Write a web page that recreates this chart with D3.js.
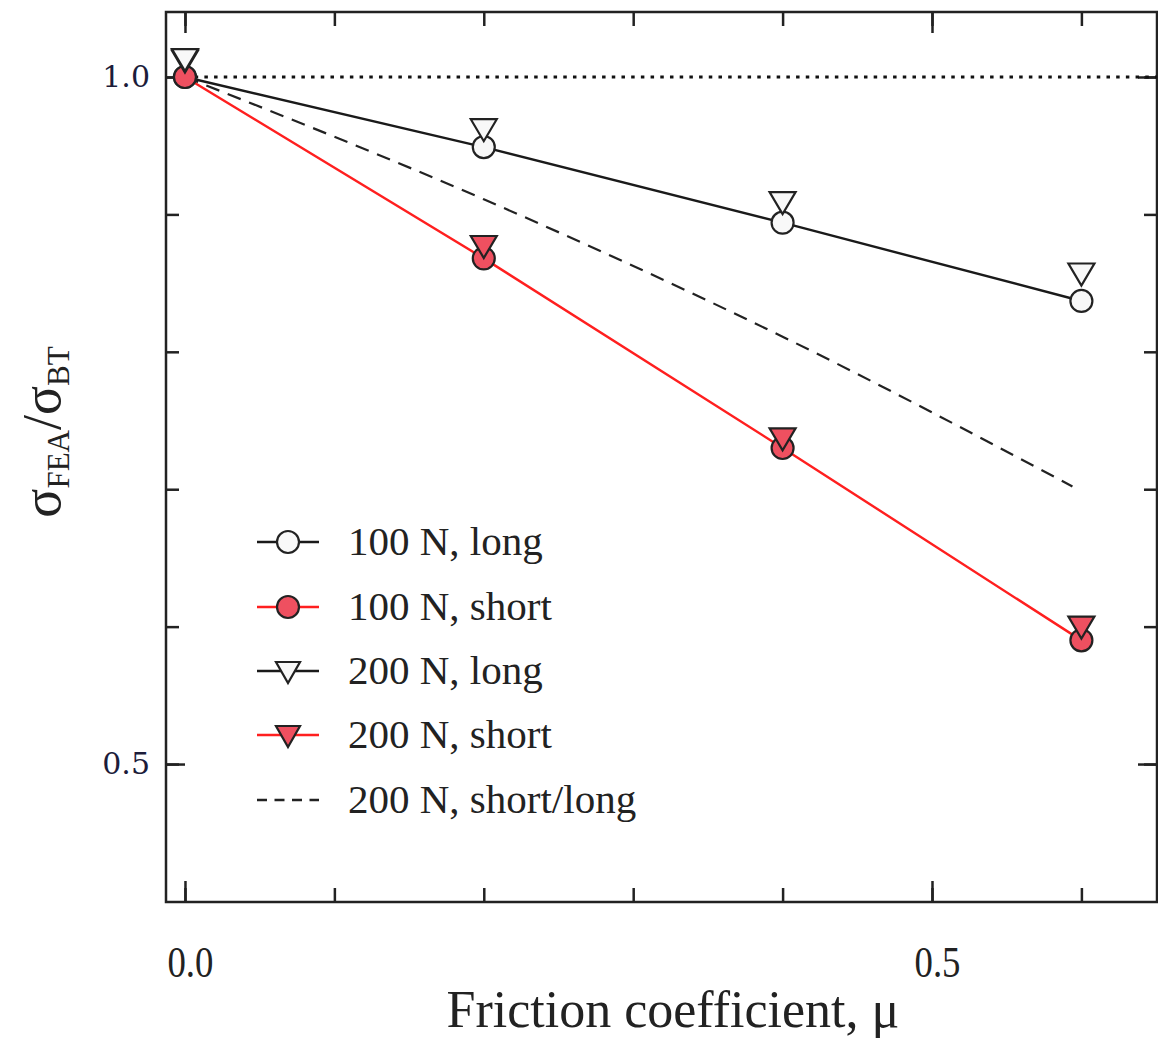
<!DOCTYPE html>
<html lang="en">
<head>
<meta charset="UTF-8">
<title>Stress ratio vs friction coefficient</title>
<script src="https://d3js.org/d3.v7.min.js"></script>
<style>
  html, body { margin:0; padding:0; background:#fff; }
</style>
</head>
<body>
<div id="chart"></div>
<script>
// data
const mu = [0.0, 0.2, 0.4, 0.6];
const long100 = [1.0, 0.949, 0.894, 0.837];
const short100 = [1.0, 0.868, 0.730, 0.590];
const long200 = [1.013, 0.962, 0.909, 0.857];
const short200 = [1.012, 0.877, 0.737, 0.600];
const ratioMu = [0.0, 0.2, 0.4, 0.594];
const ratio200 = [1.0, 0.911, 0.811, 0.702];
const xMinor = [0.0, 0.1, 0.2, 0.3, 0.4, 0.5, 0.6];
const xMajor = [0.0, 0.5];
const yMinor = [0.5, 0.6, 0.7, 0.8, 0.9, 1.0];
const yMajor = [0.5, 1.0];
const legendLabels = ["100 N, long", "100 N, short", "200 N, long", "200 N, short", "200 N, short/long"];

const W = 1158, H = 1040;
const L = 166, R = 1157, T = 12, B = 902;
const red = "#ff1f1f", redFill = "#ee5060", openFill = "#f8f8f8", ink = "#222";
const serif = "'Liberation Serif', 'Times New Roman', serif";

const svg = d3.select("#chart").append("svg")
    .attr("width", W).attr("height", H)
    .style("font-family", serif);

const x = d3.scaleLinear().domain([-0.0127, 0.6506]).range([L, R]);
const y = d3.scaleLinear().domain([0.3996, 1.0473]).range([B, T]);

// axes, ticks pointing inward on all four sides
function axisGroup(axis, tr) {
    const g = svg.append("g").attr("transform", tr).call(axis);
    g.select(".domain").remove();
    g.selectAll(".tick line").attr("stroke", ink).attr("stroke-width", 2.5);
    return g;
}
axisGroup(d3.axisBottom(x).tickValues(xMinor).tickSize(-14).tickFormat(""), `translate(0,${B})`);
axisGroup(d3.axisTop(x).tickValues(xMinor).tickSize(-14).tickFormat(""), `translate(0,${T})`);
axisGroup(d3.axisTop(x).tickValues(xMajor).tickSize(-21).tickFormat(""), `translate(0,${T})`);
const xb = axisGroup(d3.axisBottom(x).tickValues(xMajor).tickSize(-21).tickPadding(40)
    .tickFormat(d3.format(".1f")), `translate(0,${B})`);
xb.selectAll("text")
    .style("font-family", serif).style("font-size", "40px").attr("fill", "#222")
    .attr("transform", "translate(5,0) scale(0.92,1.1)").attr("dy", "0.7em");

axisGroup(d3.axisLeft(y).tickValues(yMinor).tickSize(-13).tickFormat(""), `translate(${L},0)`);
axisGroup(d3.axisRight(y).tickValues(yMinor).tickSize(-13).tickFormat(""), `translate(${R},0)`);
axisGroup(d3.axisRight(y).tickValues(yMajor).tickSize(-19).tickFormat(""), `translate(${R},0)`);
const yl = axisGroup(d3.axisLeft(y).tickValues(yMajor).tickSize(-19).tickPadding(16)
    .tickFormat(d3.format(".1f")), `translate(${L},0)`);
yl.selectAll("text")
    .style("font-family", "'DejaVu Serif', serif").style("font-size", "30px").attr("fill", "#1c1c3a");

// frame
svg.append("rect").attr("x", L).attr("y", T).attr("width", R - L).attr("height", B - T)
    .attr("fill", "none").attr("stroke", ink).attr("stroke-width", 2.5);

// reference line at 1.0
svg.append("line").attr("x1", x(0)).attr("x2", R).attr("y1", y(1)).attr("y2", y(1))
    .attr("stroke", "#111").attr("stroke-width", 3).attr("stroke-dasharray", "3.5 6.2");

const line = d3.line().x(d => x(d[0])).y(d => y(d[1]));
const zip = (a, b) => a.map((v, i) => [v, b[i]]);

svg.append("path").datum(zip(ratioMu, ratio200))
    .attr("d", line.curve(d3.curveMonotoneX)).attr("fill", "none")
    .attr("stroke", "#222").attr("stroke-width", 2.2).attr("stroke-dasharray", "14 9");
line.curve(d3.curveLinear);
svg.append("path").datum(zip(mu, long100)).attr("d", line)
    .attr("fill", "none").attr("stroke", "#1a1a1a").attr("stroke-width", 2.4);
svg.append("path").datum(zip(mu, short100)).attr("d", line)
    .attr("fill", "none").attr("stroke", red).attr("stroke-width", 2.4);

const tri = "M-13,-10L13,-10L0,12Z";
function circles(vals, fill) {
    svg.append("g").selectAll("circle").data(zip(mu, vals)).join("circle")
        .attr("cx", d => x(d[0])).attr("cy", d => y(d[1])).attr("r", 11)
        .attr("fill", fill).attr("stroke", ink).attr("stroke-width", 2.2);
}
function triangles(vals, fill) {
    svg.append("g").selectAll("path").data(zip(mu, vals)).join("path")
        .attr("d", tri).attr("transform", d => `translate(${x(d[0])},${y(d[1])})`)
        .attr("fill", fill).attr("stroke", ink).attr("stroke-width", 2.2);
}
circles(long100, openFill);
circles(short100, redFill);
triangles(short200, redFill);
triangles(long200, openFill);

// legend
const rows = [542, 607, 671, 735, 800];
const lg = svg.append("g");
legendLabels.forEach((lab, i) => {
    const cy = rows[i];
    const lineColor = (i === 1 || i === 3) ? red : "#1a1a1a";
    const ln = lg.append("line").attr("x1", 257).attr("x2", 319).attr("y1", cy).attr("y2", cy)
        .attr("stroke", lineColor).attr("stroke-width", 2.4);
    if (i === 4) ln.attr("stroke-dasharray", "10 7.5").attr("stroke", "#222");
    if (i === 0 || i === 1) {
        lg.append("circle").attr("cx", 288).attr("cy", cy).attr("r", 11)
            .attr("fill", i === 0 ? openFill : redFill).attr("stroke", ink).attr("stroke-width", 2.2);
    } else if (i === 2 || i === 3) {
        lg.append("path").attr("d", "M-12,-9L12,-9L0,12Z").attr("transform", `translate(288,${cy})`)
            .attr("fill", i === 2 ? openFill : redFill).attr("stroke", ink).attr("stroke-width", 2.2);
    }
    lg.append("text").attr("x", 348).attr("y", cy + 13)
        .style("font-size", "41px").attr("fill", "#222").text(lab);
});

// axis titles
svg.append("text").attr("x", 673).attr("y", 1027).attr("text-anchor", "middle")
    .style("font-size", "52px").attr("fill", "#222").text("Friction coefficient, μ");

const yt = svg.append("text").attr("transform", "translate(60,432) rotate(-90)")
    .attr("text-anchor", "middle").style("font-size", "54px").attr("fill", "#222");
yt.append("tspan").text("σ");
yt.append("tspan").style("font-size", "31px").attr("dy", 9).text("FEA");
yt.append("tspan").attr("dy", -9).text("/σ");
yt.append("tspan").style("font-size", "31px").attr("dy", 9).text("BT");
</script>
</body>
</html>
